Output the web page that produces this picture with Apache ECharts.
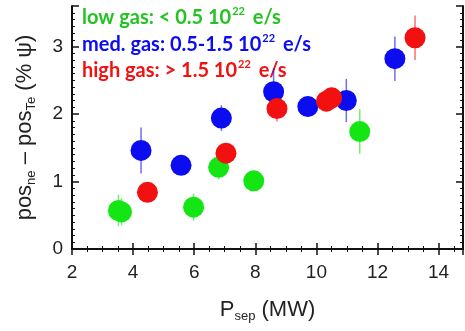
<!DOCTYPE html>
<html>
<head>
<meta charset="utf-8">
<script src="https://cdn.jsdelivr.net/npm/echarts@6/dist/echarts.min.js"></script>
<style>
  html, body { margin: 0; padding: 0; background: #fff; }
  #chart { width: 465px; height: 331px; }
</style>
</head>
<body>
<div id="chart"></div>
<script>
// low gas: < 0.5 10^22 e/s
var lowX = [3.52, 3.62, 5.98, 6.8, 7.95, 11.42];
var lowY = [0.57, 0.55, 0.62, 1.21, 1.01, 1.74];
var lowErr = [0.23, 0.2, 0.2, 0.18, 0.1, 0.33];
// med. gas: 0.5-1.5 10^22 e/s
var medX = [4.26, 5.57, 6.89, 8.6, 9.72, 10.98, 12.57];
var medY = [1.46, 1.24, 1.94, 2.33, 2.11, 2.2, 2.82];
var medErr = [0.34, 0.1, 0.19, 0.35, 0.15, 0.32, 0.33];
// high gas: > 1.5 10^22 e/s
var highX = [4.47, 7.04, 8.71, 10.33, 10.5, 13.23];
var highY = [0.84, 1.42, 2.08, 2.19, 2.24, 3.13];
var highErr = [0.1, 0.12, 0.19, 0.15, 0.15, 0.33];

var xTicks = [2, 4, 6, 8, 10, 12, 14];
var yTicks = [0, 1, 2, 3];

var GREEN = '#14e614', BLUE = '#0c0cf0', RED = '#f21010';

function pts(xs, ys) {
    return xs.map(function (x, i) { return [x, ys[i]]; });
}
function errPts(xs, ys, es) {
    return xs.map(function (x, i) { return [x, ys[i], es[i]]; });
}
function errSeries(xs, ys, es, color) {
    return {
        type: 'custom',
        z: 1,
        renderItem: function (params, api) {
            var x = api.value(0), y = api.value(1), e = api.value(2);
            var a = api.coord([x, y - e]);
            var b = api.coord([x, y + e]);
            return {
                type: 'line',
                shape: { x1: a[0], y1: a[1], x2: b[0], y2: b[1] },
                style: { stroke: color, lineWidth: 1.5, opacity: 0.6 }
            };
        },
        data: errPts(xs, ys, es)
    };
}
function dotSeries(xs, ys, color) {
    return {
        type: 'scatter',
        z: 2,
        symbol: 'circle',
        symbolSize: 21,
        itemStyle: { color: color, opacity: 1 },
        data: pts(xs, ys)
    };
}
function legendText(top, label, color) {
    return {
        type: 'text', left: 82, top: top,
        style: {
            text: '{t|' + label + ' 10}{u|22}{t| e/s}',
            rich: {
                t: { fontFamily: 'Lato', fontWeight: 'bold', fontSize: 20, fill: color },
                u: { fontFamily: 'Lato', fontWeight: 'bold', fontSize: 11, fill: color, padding: [0, 3, 12, 1] }
            }
        }
    };
}

var tickFont = { fontFamily: 'Liberation Sans', fontSize: 19, color: '#222' };
var nameRich = {
    a: { fontFamily: 'Liberation Sans', fontSize: 22, color: '#222' },
    s: { fontFamily: 'Liberation Sans', fontSize: 13, color: '#222', padding: [13, 0, 0, 0] }
};

var myChart = echarts.init(document.getElementById('chart'));
var option = {
    animation: false,
    grid: { left: 72, right: 2, top: 6, bottom: 82 },
    xAxis: [{
        type: 'value',
        min: 2,
        max: 14.8,
        interval: 2,
        splitLine: { show: false },
        axisLine: { lineStyle: { color: '#111', width: 2 } },
        axisTick: { inside: true, length: 6, lineStyle: { color: '#111', width: 1.5 } },
        minorTick: { show: true, splitNumber: 4, length: 3, lineStyle: { color: '#111' } },
        axisLabel: Object.assign({ margin: 14, showMaxLabel: false }, tickFont),
        name: '{a|P}{s|sep}{a| (MW)}',
        nameLocation: 'middle',
        nameGap: 48,
        nameTextStyle: { rich: nameRich }
    }, {
        type: 'value',
        position: 'top',
        min: 2,
        max: 14.8,
        interval: 2,
        splitLine: { show: false },
        axisLine: { lineStyle: { color: '#111', width: 2 } },
        axisTick: { inside: true, length: 6, lineStyle: { color: '#111', width: 1.5 } },
        minorTick: { show: true, splitNumber: 4, length: 3, lineStyle: { color: '#111' } },
        axisLabel: { show: false }
    }],
    yAxis: [{
        type: 'value',
        min: 0,
        max: 3.6,
        interval: 1,
        splitLine: { show: false },
        axisLine: { lineStyle: { color: '#111', width: 2 } },
        axisTick: { inside: true, length: 7, lineStyle: { color: '#111', width: 1.5 } },
        minorTick: { show: true, splitNumber: 10, length: 3, lineStyle: { color: '#111' } },
        axisLabel: Object.assign({ margin: 9, showMaxLabel: false }, tickFont),
        name: '{a|pos}{s|ne}{a| – pos}{s|Te}{a| (% ψ)}',
        nameLocation: 'middle',
        nameRotate: 90,
        nameGap: 34,
        nameTextStyle: { rich: nameRich }
    }, {
        type: 'value',
        position: 'right',
        min: 0,
        max: 3.6,
        interval: 1,
        splitLine: { show: false },
        axisLine: { lineStyle: { color: '#111', width: 2 } },
        axisTick: { inside: true, length: 7, lineStyle: { color: '#111', width: 1.5 } },
        minorTick: { show: true, splitNumber: 10, length: 3, lineStyle: { color: '#111' } },
        axisLabel: { show: false }
    }],
    graphic: [
        legendText(6, 'low gas: < 0.5', '#22c322'),
        legendText(33, 'med. gas: 0.5-1.5', BLUE),
        legendText(59, 'high gas: > 1.5', RED)
    ],
    series: [
        errSeries(lowX, lowY, lowErr, GREEN),
        errSeries(medX, medY, medErr, BLUE),
        errSeries(highX, highY, highErr, RED),
        dotSeries(lowX, lowY, GREEN),
        dotSeries(medX, medY, BLUE),
        dotSeries(highX, highY, RED)
    ]
};
myChart.setOption(option);
window.addEventListener('resize', function () { myChart.resize(); });
</script>
</body>
</html>
